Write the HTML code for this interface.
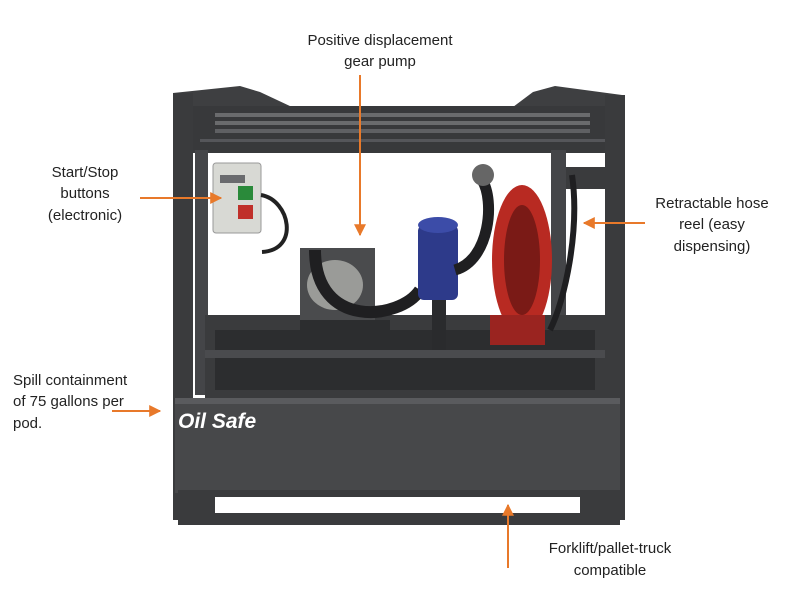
<!DOCTYPE html>
<html><head><meta charset="utf-8"><style>
html,body{margin:0;padding:0;background:#fff;}
svg{display:block}
text{font-family:"Liberation Sans",sans-serif;font-size:15px;fill:#222;}
</style></head><body>
<svg width="800" height="600" viewBox="0 0 800 600">
<defs><marker id="a" viewBox="0 0 10 10" refX="9" refY="5" markerWidth="6" markerHeight="6" orient="auto"><path d="M0,0 L10,5 L0,10 z" fill="#e8792a"/></marker></defs>
<rect width="800" height="600" fill="#fff"/>
<!-- top frame -->
<polygon points="173,93 240,86 260,92 292,107 173,110" fill="#3e3f41"/>
<polygon points="513,107 533,92 555,86 622,95 625,110" fill="#3e3f41"/>
<rect x="173" y="106" width="452" height="47" fill="#38393b"/>
<rect x="215" y="113" width="375" height="4" fill="#6a6b6d"/>
<rect x="215" y="121" width="375" height="4" fill="#6a6b6d"/>
<rect x="215" y="129" width="375" height="4" fill="#5f6063"/>
<rect x="200" y="139" width="405" height="3" fill="#55565a"/>
<!-- posts -->
<rect x="173" y="93" width="20" height="427" fill="#3a3b3d"/>
<rect x="195" y="150" width="13" height="245" fill="#444548"/>
<rect x="605" y="95" width="20" height="425" fill="#3a3b3d"/>
<rect x="551" y="150" width="15" height="245" fill="#444548"/>
<rect x="566" y="167" width="40" height="22" fill="#3a3b3d"/>
<!-- deck -->
<rect x="205" y="315" width="400" height="85" fill="#3a3b3d"/>
<rect x="215" y="330" width="380" height="60" fill="#2c2d2f"/>
<rect x="205" y="350" width="400" height="8" fill="#4a4b4e"/>
<!-- tank -->
<rect x="175" y="398" width="445" height="95" fill="#47484a"/>
<rect x="175" y="398" width="445" height="6" fill="#5a5b5e"/>
<text x="178" y="428" style="font-size:21px;font-weight:bold;fill:#fff;font-style:italic">Oil Safe</text>
<!-- skid -->
<rect x="178" y="490" width="442" height="35" fill="#3a3b3d"/>
<rect x="215" y="497" width="365" height="16" fill="#fff"/>
<!-- start/stop box -->
<rect x="213" y="163" width="48" height="70" rx="3" fill="#d8d9d4" stroke="#999"/>
<rect x="220" y="175" width="25" height="8" fill="#6a6b6e"/>
<rect x="238" y="186" width="15" height="14" fill="#2a8a3a"/>
<rect x="238" y="205" width="15" height="14" fill="#c0302a"/>
<path d="M261,195 C290,200 300,250 262,252" stroke="#222" stroke-width="4" fill="none"/>
<!-- pump -->
<rect x="300" y="248" width="75" height="72" fill="#4a4b4d"/>
<ellipse cx="335" cy="285" rx="28" ry="25" fill="#9a9b98"/>
<rect x="300" y="320" width="90" height="30" fill="#2c2d2f"/>
<path d="M315,250 C315,330 400,320 420,290" stroke="#1f1f21" stroke-width="12" fill="none"/>
<!-- filter -->
<rect x="418" y="225" width="40" height="75" rx="6" fill="#2d3a8a"/>
<ellipse cx="438" cy="225" rx="20" ry="8" fill="#3c4ca8"/>
<rect x="432" y="300" width="14" height="50" fill="#2a2b2d"/>
<path d="M455,270 C490,260 495,200 482,180" stroke="#1f1f21" stroke-width="11" fill="none"/>
<!-- reel -->
<ellipse cx="522" cy="260" rx="30" ry="75" fill="#b82a22"/>
<ellipse cx="522" cy="260" rx="18" ry="55" fill="#7a1a16"/>
<rect x="490" y="315" width="55" height="30" fill="#9a2420"/>
<path d="M572,175 C580,230 565,300 550,330" stroke="#1f1f21" stroke-width="6" fill="none"/>
<circle cx="483" cy="175" r="11" fill="#666"/>
<!-- labels -->
<g text-anchor="middle">
<text x="380" y="45">Positive displacement</text>
<text x="380" y="66">gear pump</text>
<text x="85" y="177">Start/Stop</text>
<text x="85" y="198">buttons</text>
<text x="85" y="220">(electronic)</text>
<text x="712" y="208">Retractable hose</text>
<text x="712" y="229">reel (easy</text>
<text x="712" y="251">dispensing)</text>
<text x="610" y="553">Forklift/pallet-truck</text>
<text x="610" y="575">compatible</text>
</g>
<text x="13" y="385">Spill containment</text>
<text x="13" y="406">of 75 gallons per</text>
<text x="13" y="428">pod.</text>
<g stroke="#e8792a" stroke-width="2" fill="none">
<line x1="360" y1="75" x2="360" y2="235" marker-end="url(#a)"/>
<line x1="140" y1="198" x2="221" y2="198" marker-end="url(#a)"/>
<line x1="645" y1="223" x2="584" y2="223" marker-end="url(#a)"/>
<line x1="112" y1="411" x2="160" y2="411" marker-end="url(#a)"/>
<line x1="508" y1="568" x2="508" y2="505" marker-end="url(#a)"/>
</g>
</svg>
</body></html>
